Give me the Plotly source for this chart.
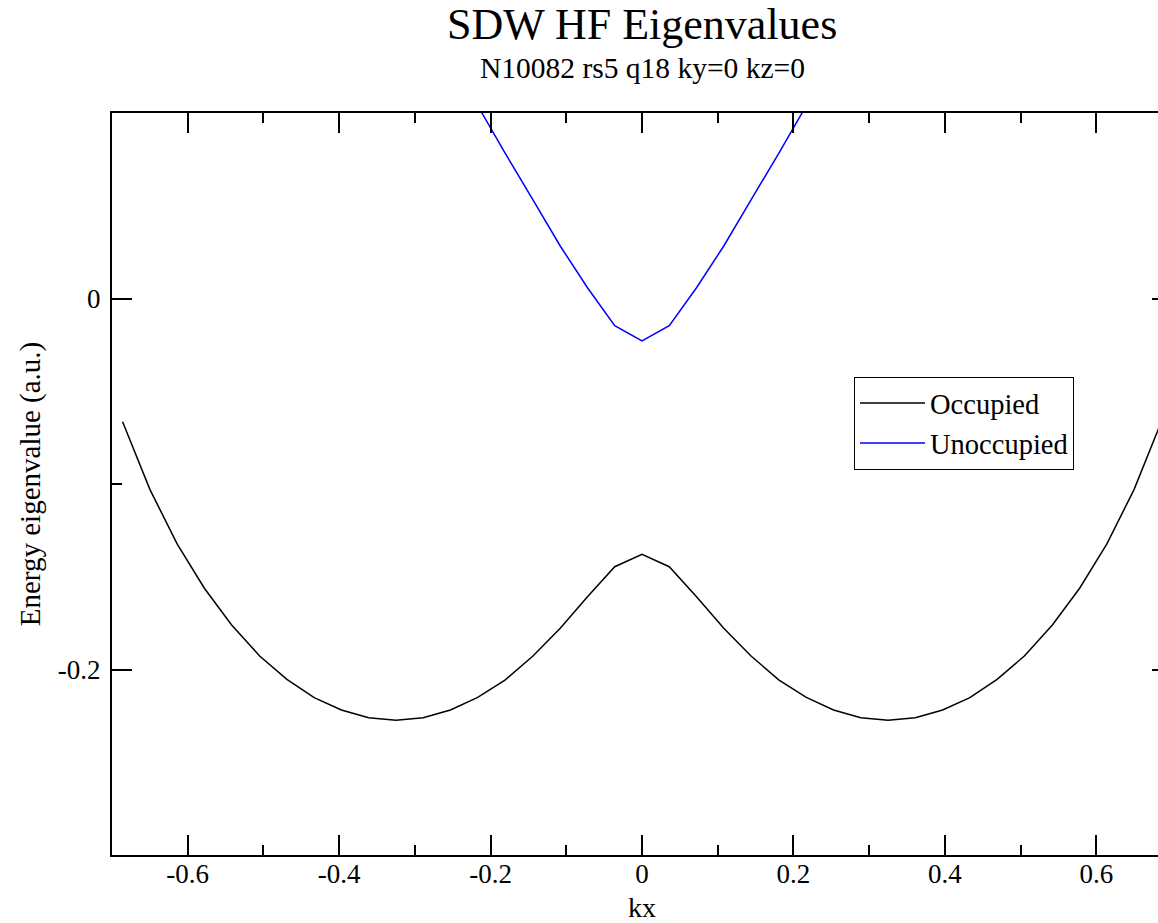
import plotly.graph_objects as go

# ---- data ----
kx_occ = [-0.686, -0.650, -0.614, -0.578, -0.542, -0.505, -0.469, -0.433, -0.397, -0.361,
          -0.325, -0.289, -0.253, -0.217, -0.181, -0.144, -0.108, -0.072, -0.036, 0.0,
          0.036, 0.072, 0.108, 0.144, 0.181, 0.217, 0.253, 0.289, 0.325, 0.361,
          0.397, 0.433, 0.469, 0.505, 0.542, 0.578, 0.614, 0.650, 0.686]
e_occ = [-0.0664, -0.1029, -0.1323, -0.1562, -0.1760, -0.1927, -0.2053, -0.2152, -0.2218, -0.2260,
         -0.2274, -0.2260, -0.2218, -0.2150, -0.2057, -0.1927, -0.1778, -0.1608, -0.1446, -0.1379,
         -0.1446, -0.1608, -0.1778, -0.1927, -0.2057, -0.2150, -0.2218, -0.2260, -0.2274, -0.2260,
         -0.2218, -0.2152, -0.2053, -0.1927, -0.1760, -0.1562, -0.1323, -0.1029, -0.0664]

kx_unocc = [-0.217, -0.181, -0.144, -0.108, -0.072, -0.036, 0.0,
            0.036, 0.072, 0.108, 0.144, 0.181, 0.217]
e_unocc = [0.1040, 0.0785, 0.0532, 0.0283, 0.0058, -0.0147, -0.0229,
           -0.0147, 0.0058, 0.0283, 0.0532, 0.0785, 0.1040]

x_tickvals = [-0.6, -0.4, -0.2, 0.0, 0.2, 0.4, 0.6]
x_ticktext = ["-0.6", "-0.4", "-0.2", "0", "0.2", "0.4", "0.6"]
x_minor = [-0.7, -0.5, -0.3, -0.1, 0.1, 0.3, 0.5, 0.7]
y_tickvals = [-0.2, 0.0]
y_ticktext = ["-0.2", "0"]
y_minor = [-0.3, -0.1, 0.1]

title_text = "SDW HF Eigenvalues"
subtitle_text = "N10082 rs5 q18 ky=0 kz=0"

# ---- layout geometry ----
# The original frame runs a little past the right edge of the 1158 px window,
# so the figure is made slightly wider and the page clips it.
W, H = 1180, 923
ML, MR, MT, MB = 112, 8, 113, 68
plot_w = W - ML - MR
plot_h = H - MT - MB
x_range = [-0.7, 0.7]
y_range = [-0.3, 0.1]

FONT = "Liberation Serif"

fig = go.Figure()
fig.add_trace(go.Scatter(x=kx_occ, y=e_occ, mode="lines", name="Occupied",
                         line=dict(color="black", width=1.5)))
fig.add_trace(go.Scatter(x=kx_unocc, y=e_unocc, mode="lines", name="Unoccupied",
                         line=dict(color="#0000ff", width=1.5)))

axis_common = dict(showgrid=False, zeroline=False, showline=True, linecolor="black",
                   linewidth=2, ticks="inside", ticklen=20, tickwidth=1.5, tickcolor="black",
                   mirror="ticks", automargin=False,
                   tickfont=dict(family=FONT, size=27, color="black"))

fig.update_xaxes(range=x_range, tickmode="array", tickvals=x_tickvals, ticktext=x_ticktext,
                 minor=dict(tickvals=x_minor, ticks="inside", ticklen=10, tickwidth=1.5,
                            tickcolor="black", showgrid=False),
                 ticklabelstandoff=-6,
                 title=dict(text="kx", font=dict(family=FONT, size=28, color="black"), standoff=13),
                 **axis_common)
fig.update_yaxes(range=y_range, tickmode="array", tickvals=y_tickvals, ticktext=y_ticktext,
                 minor=dict(tickvals=y_minor, ticks="inside", ticklen=10, tickwidth=1.5,
                            tickcolor="black", showgrid=False),
                 ticklabelstandoff=4,
                 title=dict(text="Energy eigenvalue (a.u.)",
                            font=dict(family=FONT, size=29, color="black"), standoff=9),
                 **axis_common)

center_x = 0.5
fig.add_annotation(text=title_text, xref="paper", yref="paper", x=center_x,
                   y=(H - MB - 25) / plot_h, xanchor="center", yanchor="middle",
                   showarrow=False, font=dict(family=FONT, size=44, color="black"))
fig.add_annotation(text=subtitle_text, xref="paper", yref="paper", x=center_x,
                   y=(H - MB - 68) / plot_h, xanchor="center", yanchor="middle",
                   showarrow=False, font=dict(family=FONT, size=29.5, color="black"))

fig.update_layout(
    width=W, height=H, autosize=False,
    margin=dict(l=ML, r=MR, t=MT, b=MB, pad=0, autoexpand=False),
    paper_bgcolor="white", plot_bgcolor="white",
    showlegend=True,
    legend=dict(x=(854 - ML) / plot_w, y=(H - MB - 377) / plot_h,
                xanchor="left", yanchor="top",
                bgcolor="white", bordercolor="black", borderwidth=1,
                font=dict(family=FONT, size=28.5, color="black"),
                itemwidth=65, tracegroupgap=0),
)

page_js = ("document.body.style.margin='0';"
           "document.body.style.overflow='hidden';"
           "document.documentElement.style.overflow='hidden';")
fig.write_html("out.html", post_script=page_js, config={"displayModeBar": False})
